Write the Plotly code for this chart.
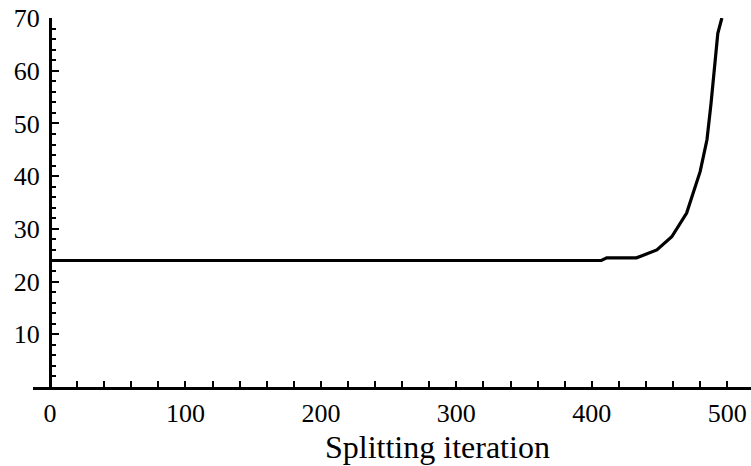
import plotly.graph_objects as go

iteration = [0, 100, 200, 300, 400, 407, 411, 433, 448, 459, 470, 480, 485, 488, 493, 496]
value = [24.0, 24.0, 24.0, 24.0, 24.0, 24.0, 24.5, 24.5, 26.0, 28.5, 33.0, 40.9, 46.9, 53.8, 67.1, 70.0]

x_major = [0, 100, 200, 300, 400, 500]
x_minor = list(range(20, 520, 20))
y_major = [10, 20, 30, 40, 50, 60, 70]
y_minor = list(range(2, 70, 2))

W, H = 751, 466
ml, mr, mt, mb = 33, 0, 18, 79
plot_w = W - ml - mr
axis_px = 50

font = dict(family="Liberation Serif, Times New Roman, serif", size=26, color="black")

fig = go.Figure()
fig.add_trace(go.Scatter(x=iteration, y=value, mode="lines",
                         line=dict(color="black", width=3.2), cliponaxis=False,
                         hoverinfo="skip", showlegend=False))

fig.update_layout(
    width=W, height=H,
    margin=dict(l=ml, r=mr, t=mt, b=mb, pad=0),
    plot_bgcolor="white", paper_bgcolor="white",
    font=font,
    xaxis=dict(range=[-12.5, 517.5], showgrid=False, zeroline=False,
               showline=True, linecolor="black", linewidth=3,
               tickmode="array", tickvals=x_major, ticktext=[str(v) for v in x_major],
               ticks="inside", ticklen=6, tickwidth=2, tickcolor="black",
               minor=dict(tickmode="array", tickvals=x_minor, ticks="inside",
                          ticklen=6, tickwidth=2, tickcolor="black", showgrid=False),
               tickfont=font, ticklabelstandoff=1),
    yaxis=dict(range=[0, 70], anchor="free", position=(axis_px - ml) / plot_w,
               showgrid=False, zeroline=False,
               showline=True, linecolor="black", linewidth=3,
               tickmode="array", tickvals=y_major, ticktext=[str(v) for v in y_major],
               ticks="inside", ticklen=7, tickwidth=2, tickcolor="black",
               minor=dict(tickmode="array", tickvals=y_minor, ticks="inside",
                          ticklen=4, tickwidth=2, tickcolor="black", showgrid=False),
               tickfont=font, ticklabelstandoff=4),
)

fig.add_annotation(text="Splitting iteration", xref="paper", yref="paper",
                   x=(437 - ml) / plot_w, y=(387 - 447) / (H - mt - mb),
                   xanchor="center", yanchor="middle", showarrow=False,
                   font=dict(family="Liberation Serif, Times New Roman, serif", size=32, color="black"))

fig.write_html("out.html")
